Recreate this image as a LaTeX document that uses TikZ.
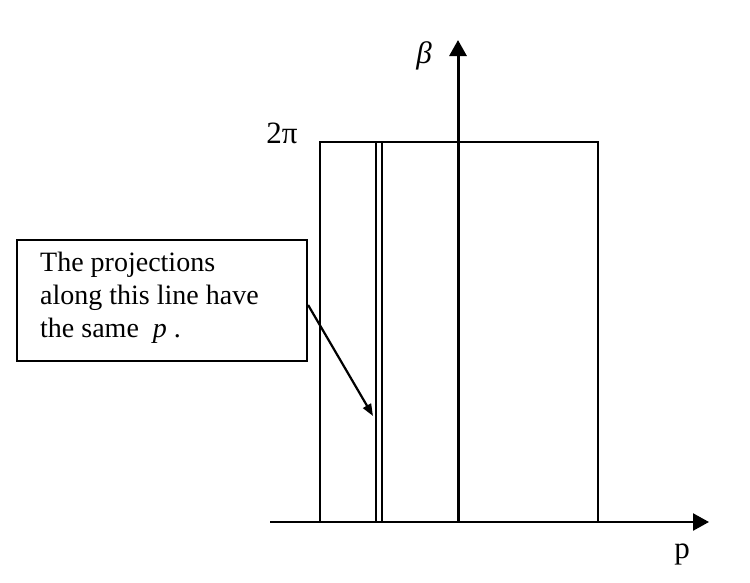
\documentclass[tikz,border=0pt]{standalone}
\usepackage{fontspec}
\setmainfont{Liberation Serif}
\usetikzlibrary{arrows.meta}
\begin{document}
\begin{tikzpicture}[x=1pt,y=-1pt,
  axis/.style={line width=2.4pt,-{Triangle[length=16pt,width=17pt]}},
  frame/.style={line width=2.2pt},
  lbl/.style={font=\fontsize{31}{34}\selectfont,inner sep=0pt},
  callout/.style={draw,line width=2.2pt,minimum width=290pt,minimum height=121pt,inner sep=0pt},
  pointer/.style={line width=2.2pt,-{Triangle[length=12pt,width=9pt]}}]
\useasboundingbox (0,0) rectangle (750,582);
% axes
\coordinate (xs) at (270,522);
\coordinate (xe) at (709,522);
\coordinate (ys) at (458,522);
\coordinate (ye) at (458,40);
\draw[axis] (xs) -- (xe);
\draw[axis,line width=3pt] (ys) -- (ye);
% rectangle
\coordinate (rbl) at (320,522);
\coordinate (rtr) at (598,142);
\draw[frame] (rbl) rectangle (rtr);
% double line
\coordinate (l1b) at (376,522);
\coordinate (l1t) at (376,142);
\coordinate (l2b) at (382,522);
\coordinate (l2t) at (382,142);
\draw[frame] (l1b) -- (l1t);
\draw[frame] (l2b) -- (l2t);
% labels
\node[lbl] (beta) at (424,56) {\textit{β}};
\node[lbl] (twopi) at (282,133) {2π};
\node[lbl] (plab) at (682,554) {p};
% callout
\node[callout] (box) at (162,300.5) {};
\node[anchor=north west,inner sep=0pt,align=left,font=\fontsize{28}{33}\selectfont] (txt) at (40,252)
  {The projections\\along this line have\\the same \ \textit{p} .};
\coordinate (pt) at (373,416);
\draw[pointer] (box.east |- 0,305) -- (pt);
\end{tikzpicture}
\end{document}
